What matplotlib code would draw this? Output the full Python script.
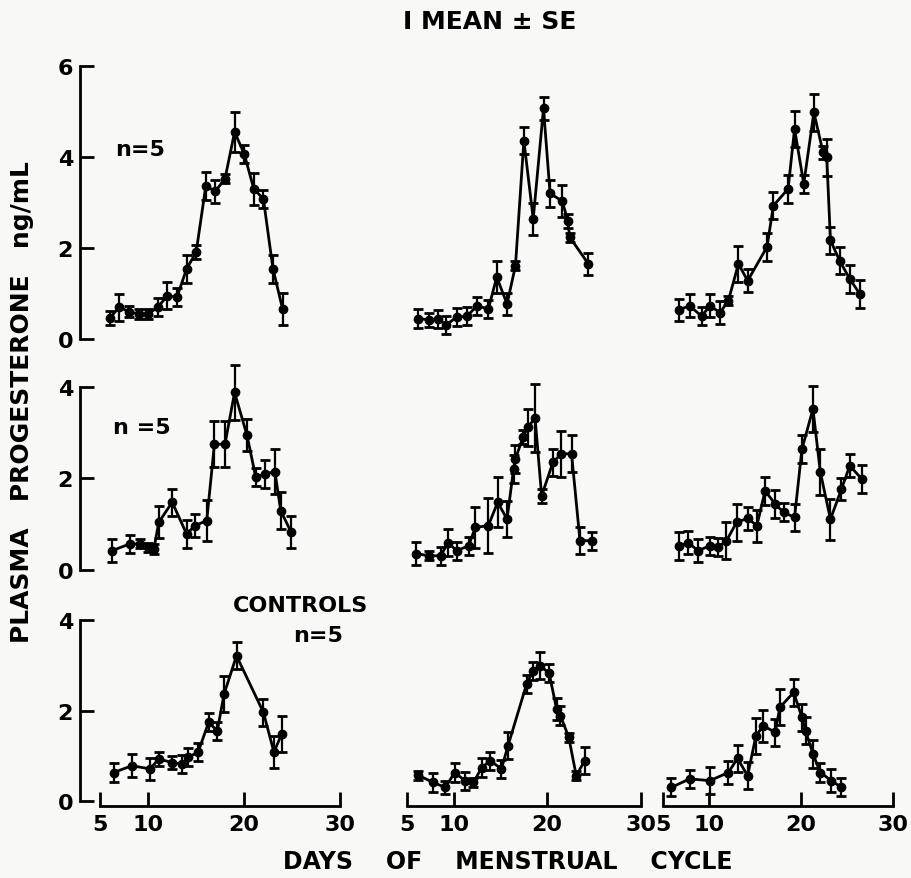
import matplotlib
matplotlib.use('Agg')
import matplotlib.pyplot as plt
from matplotlib import rc

# group A, top row (progesterone, ng/mL)
days_a1 = [6, 7, 8, 9, 10, 11, 12, 13, 14, 15, 16, 17, 18, 19, 20, 21, 22, 23, 24]
mean_a1 = [0.46, 0.70, 0.60, 0.55, 0.55, 0.70, 0.95, 0.92, 1.54, 1.91, 3.36, 3.25, 3.52, 4.55, 4.07, 3.30, 3.08, 1.54, 0.66]
se_a1 = [0.15, 0.3, 0.12, 0.1, 0.12, 0.2, 0.3, 0.2, 0.3, 0.15, 0.3, 0.25, 0.1, 0.45, 0.2, 0.35, 0.2, 0.3, 0.35]

days_a2 = [6.2, 7.4, 8.3, 9.2, 10.3, 11.4, 12.5, 13.7, 14.6, 15.7, 16.6, 17.5, 18.5, 19.6, 20.3, 21.6, 22.2, 22.4, 24.4]
mean_a2 = [0.45, 0.42, 0.44, 0.31, 0.48, 0.50, 0.73, 0.66, 1.36, 0.77, 1.61, 4.36, 2.64, 5.07, 3.20, 3.03, 2.60, 2.24, 1.65]
se_a2 = [0.2, 0.15, 0.2, 0.2, 0.2, 0.2, 0.2, 0.2, 0.35, 0.25, 0.1, 0.3, 0.35, 0.25, 0.3, 0.35, 0.15, 0.1, 0.25]

days_a3 = [6.7, 7.9, 9.2, 10.1, 11.2, 12.1, 13.2, 14.2, 16.3, 17.0, 18.6, 19.3, 20.3, 21.4, 22.4, 22.8, 23.2, 24.2, 25.3, 26.4]
mean_a3 = [0.64, 0.73, 0.50, 0.73, 0.58, 0.84, 1.65, 1.28, 2.02, 2.93, 3.30, 4.62, 3.41, 4.98, 4.10, 3.99, 2.17, 1.72, 1.32, 0.99]
se_a3 = [0.25, 0.25, 0.2, 0.25, 0.25, 0.1, 0.4, 0.25, 0.3, 0.3, 0.3, 0.4, 0.2, 0.4, 0.15, 0.4, 0.3, 0.3, 0.3, 0.3]

# group B, middle row
days_b1 = [6.2, 8.1, 9.2, 10.0, 10.6, 11.1, 12.5, 14.0, 14.9, 16.1, 16.9, 18.0, 19.0, 20.3, 21.2, 22.2, 23.2, 23.8, 24.9]
mean_b1 = [0.42, 0.57, 0.57, 0.50, 0.46, 1.04, 1.48, 0.79, 0.97, 1.08, 2.75, 2.75, 3.88, 2.94, 2.03, 2.10, 2.15, 1.30, 0.82]
se_b1 = [0.25, 0.2, 0.1, 0.1, 0.1, 0.35, 0.3, 0.3, 0.25, 0.45, 0.5, 0.5, 0.6, 0.35, 0.2, 0.3, 0.5, 0.4, 0.35]

days_b2 = [6.0, 7.3, 8.6, 9.4, 10.3, 11.6, 12.3, 13.7, 14.7, 15.7, 16.4, 16.6, 17.4, 17.9, 18.7, 19.4, 20.6, 21.5, 22.6, 23.5, 24.75]
mean_b2 = [0.36, 0.31, 0.31, 0.60, 0.42, 0.53, 0.93, 0.97, 1.48, 1.11, 2.21, 2.43, 2.90, 3.12, 3.32, 1.62, 2.35, 2.54, 2.54, 0.64, 0.64]
se_b2 = [0.25, 0.1, 0.2, 0.3, 0.2, 0.2, 0.45, 0.6, 0.55, 0.4, 0.3, 0.3, 0.15, 0.4, 0.75, 0.15, 0.3, 0.5, 0.4, 0.3, 0.2]

days_b3 = [6.7, 7.75, 8.8, 10.1, 11.0, 11.9, 13.0, 14.2, 15.2, 16.1, 17.2, 18.1, 19.3, 20.1, 21.3, 22.1, 23.2, 24.4, 25.3, 26.6]
mean_b3 = [0.52, 0.60, 0.42, 0.53, 0.50, 0.64, 1.04, 1.13, 0.97, 1.73, 1.44, 1.26, 1.15, 2.64, 3.52, 2.14, 1.11, 1.77, 2.28, 1.99]
se_b3 = [0.3, 0.25, 0.25, 0.2, 0.2, 0.4, 0.4, 0.25, 0.35, 0.3, 0.3, 0.2, 0.3, 0.3, 0.5, 0.5, 0.45, 0.25, 0.25, 0.3]

# controls, bottom row
days_c1 = [6.4, 8.3, 10.2, 11.1, 12.5, 13.5, 14.2, 15.2, 16.3, 17.2, 17.9, 19.2, 22.0, 23.1, 23.9]
mean_c1 = [0.63, 0.78, 0.71, 0.93, 0.85, 0.82, 0.97, 1.08, 1.74, 1.55, 2.36, 3.21, 1.96, 1.08, 1.48]
se_c1 = [0.2, 0.25, 0.25, 0.15, 0.15, 0.2, 0.2, 0.2, 0.2, 0.2, 0.4, 0.3, 0.3, 0.35, 0.4]

days_c2 = [6.2, 7.8, 9.1, 10.1, 11.2, 12.1, 13.0, 13.9, 15.1, 15.8, 17.8, 18.5, 19.2, 20.2, 21.0, 21.4, 22.3, 23.1, 24.0]
mean_c2 = [0.57, 0.41, 0.30, 0.63, 0.45, 0.41, 0.74, 0.89, 0.71, 1.22, 2.59, 2.88, 2.99, 2.83, 2.03, 1.89, 1.41, 0.56, 0.89]
se_c2 = [0.1, 0.2, 0.15, 0.2, 0.2, 0.1, 0.2, 0.2, 0.2, 0.3, 0.2, 0.2, 0.3, 0.2, 0.25, 0.2, 0.1, 0.1, 0.3]

days_c3 = [5.9, 7.9, 10.1, 12.1, 13.1, 14.2, 15.1, 15.9, 17.2, 17.7, 19.2, 20.1, 20.5, 21.3, 22.1, 23.3, 24.4]
mean_c3 = [0.30, 0.49, 0.45, 0.63, 0.94, 0.56, 1.44, 1.66, 1.52, 2.07, 2.40, 1.85, 1.55, 1.04, 0.63, 0.45, 0.30]
se_c3 = [0.2, 0.2, 0.3, 0.25, 0.3, 0.3, 0.4, 0.35, 0.3, 0.4, 0.3, 0.3, 0.3, 0.3, 0.2, 0.25, 0.2]

x_ticks = [5, 10, 20, 30]

W, H = 912, 879


def rect(left, top, width, height):
    # pixel box -> figure fraction
    return [left / W, 1 - (top + height) / H, width / W, height / H]


def fig_text(fig, x, y, s, **kw):
    fig.text(x / W, 1 - y / H, s, **kw)


def draw_panel(fig, box, xlim, ylim, days, mean, se, yticks=None, xaxis=False):
    ax = fig.add_axes(rect(*box))
    ax.set_facecolor('none')
    ax.errorbar(days, mean, yerr=se, color='black', lw=2, marker='o', ms=6,
                elinewidth=1.6, capsize=3.5, capthick=2)
    ax.set_xlim(*xlim)
    ax.set_ylim(*ylim)
    for side in ('top', 'right', 'left', 'bottom'):
        ax.spines[side].set_visible(False)
    ax.set_xticks([])
    ax.set_yticks([])
    if yticks is not None:
        ax.spines['left'].set_visible(True)
        ax.spines['left'].set_linewidth(2)
        ax.spines['left'].set_bounds(0, yticks[-1])
        ax.set_yticks(yticks)
        ax.tick_params(axis='y', direction='in', length=10, width=2, pad=5, labelsize=16)
    if xaxis:
        ax.spines['bottom'].set_visible(True)
        ax.spines['bottom'].set_linewidth(2)
        ax.spines['bottom'].set_bounds(5, 30)
        ax.set_xticks(x_ticks)
        ax.tick_params(axis='x', direction='in', length=10, width=2, pad=6, labelsize=16)
    return ax


if __name__ == '__main__':
    rc('font', family='DejaVu Sans', weight='bold')

    fig = plt.figure(figsize=(W / 100, H / 100), dpi=100)
    fig.patch.set_facecolor('#f8f8f6')

    # column boxes: (left px, width px, xlim)
    cols = [(80, 269.8, (2.9, 31)), (397.65, 252.45, (4, 31)), (653.8, 248.4, (4, 31))]
    # rows: (top px, height px, ylim)
    rows = [(53.35, 291.2, (-0.1, 6.3)), (360.55, 215.0, (-0.1, 4.6)), (616.5, 190.5, (-0.11, 4.1))]

    data = [
        [(days_a1, mean_a1, se_a1), (days_a2, mean_a2, se_a2), (days_a3, mean_a3, se_a3)],
        [(days_b1, mean_b1, se_b1), (days_b2, mean_b2, se_b2), (days_b3, mean_b3, se_b3)],
        [(days_c1, mean_c1, se_c1), (days_c2, mean_c2, se_c2), (days_c3, mean_c3, se_c3)],
    ]
    row_ticks = [[0, 2, 4, 6], [0, 2, 4], [0, 2, 4]]

    for r, (top, h, ylim) in enumerate(rows):
        for c, (left, w, xlim) in enumerate(cols):
            d, m, s = data[r][c]
            draw_panel(fig, (left, top, w, h), xlim, ylim, d, m, s,
                       yticks=row_ticks[r] if c == 0 else None,
                       xaxis=(r == 2))

    # labels
    fig_text(fig, 490, 22, 'I MEAN \u00b1 SE', ha='center', va='center', fontsize=18)
    fig_text(fig, 140, 150, 'n=5', ha='center', va='center', fontsize=16)
    fig_text(fig, 142, 428, 'n =5', ha='center', va='center', fontsize=16)
    fig_text(fig, 300, 606, 'CONTROLS', ha='center', va='center', fontsize=16)
    fig_text(fig, 318, 636, 'n=5', ha='center', va='center', fontsize=16)
    fig_text(fig, 22, 402, 'PLASMA   PROGESTERONE   ng/mL', ha='center', va='center',
             rotation=90, fontsize=18)
    fig_text(fig, 508, 862, 'DAYS    OF    MENSTRUAL    CYCLE', ha='center', va='center',
             fontsize=17)

    fig.savefig('out.png', dpi=100, facecolor=fig.get_facecolor())
